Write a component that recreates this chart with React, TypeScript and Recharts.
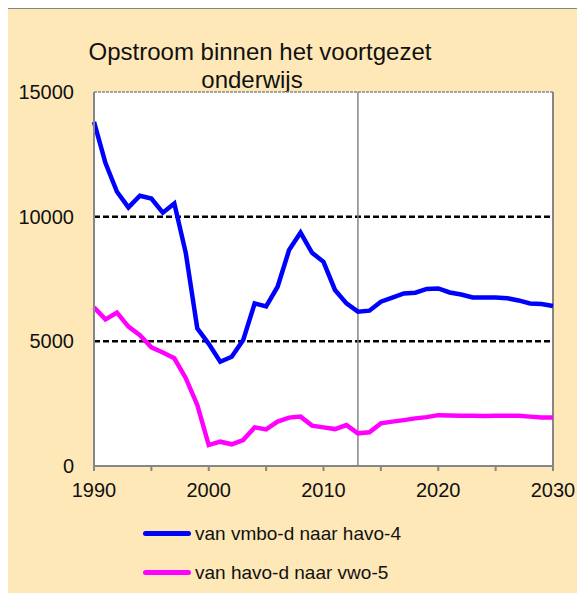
import { LineChart, Line, XAxis, YAxis, ReferenceLine, CartesianGrid, Legend } from "recharts";

const YEARS = [
  1990, 1991, 1992, 1993, 1994, 1995, 1996, 1997, 1998, 1999, 2000, 2001, 2002, 2003,
  2004, 2005, 2006, 2007, 2008, 2009, 2010, 2011, 2012, 2013, 2014, 2015, 2016, 2017,
  2018, 2019, 2020, 2021, 2022, 2023, 2024, 2025, 2026, 2027, 2028, 2029, 2030,
];

const VMBO_HAVO = [
  13800, 12150, 11000, 10370, 10840, 10730, 10160, 10530, 8540, 5520, 4900, 4180, 4380, 5050,
  6520, 6400, 7190, 8660, 9360, 8550, 8190, 7060, 6520, 6190, 6230, 6590, 6750, 6920,
  6950, 7100, 7120, 6960, 6880, 6760, 6760, 6760, 6730, 6640, 6520, 6500, 6420,
];

const HAVO_VWO = [
  6360, 5880, 6150, 5590, 5250, 4760, 4550, 4320, 3520, 2450, 840, 975, 870, 1040,
  1550, 1470, 1780, 1940, 1980, 1620, 1550, 1480, 1640, 1310, 1350, 1710, 1780, 1840,
  1910, 1960, 2040, 2030, 2020, 2020, 2010, 2020, 2020, 2020, 1980, 1950, 1950,
];

const X_TICKS = [1990, 1995, 2000, 2005, 2010, 2015, 2020, 2025, 2030];
const Y_TICKS = [0, 5000, 10000, 15000];
const SERIES_ORDER = ["vmbo", "havo"];

const data = YEARS.map((year, i) => ({
  year,
  vmbo: VMBO_HAVO[i],
  havo: HAVO_VWO[i],
}));

const FONT = "'Liberation Sans', Arial, sans-serif";
const GRAY = "#868686";

function LegendBox({ payload }: any) {
  const items = [...(payload || [])].sort(
    (a: any, b: any) => SERIES_ORDER.indexOf(a.dataKey) - SERIES_ORDER.indexOf(b.dataKey)
  );
  return (
    <div style={{ fontFamily: FONT, fontSize: 19, color: "#111" }}>
      {items.map((p: any) => (
        <div key={p.value} style={{ display: "flex", alignItems: "center", height: 39 }}>
          <span
            style={{
              display: "inline-block",
              width: 48,
              height: 5,
              borderRadius: 3,
              background: p.color,
              marginRight: 4,
            }}
          />
          {p.value}
        </div>
      ))}
    </div>
  );
}

export default function App() {
  return (
    <div style={{ position: "relative", width: 585, height: 601, margin: -8, overflow: "hidden", background: "#fff" }}>
      <div
        style={{
          position: "absolute",
          left: 5,
          top: 8,
          width: 590,
          height: 600,
          background: "#FFE8B8",
          borderLeft: `2px solid ${GRAY}`,
          borderTop: `1px solid ${GRAY}`,
        }}
      />
      <div
        style={{
          position: "absolute",
          left: 60,
          top: 38,
          width: 400,
          textAlign: "center",
          fontFamily: FONT,
          fontSize: 24,
          lineHeight: "28px",
          color: "#111",
        }}
      >
        Opstroom binnen het voortgezet
      </div>
      <div
        style={{
          position: "absolute",
          left: 52,
          top: 66,
          width: 400,
          textAlign: "center",
          fontFamily: FONT,
          fontSize: 24,
          lineHeight: "28px",
          color: "#111",
        }}
      >
        onderwijs
      </div>
      <div style={{ position: "absolute", left: 0, top: 0 }}>
        <LineChart
          width={585}
          height={601}
          data={data}
          margin={{ top: 92, right: 32, bottom: 95, left: 0 }}
        >
          <CartesianGrid fill="#fff" horizontal={false} vertical={false} />
          <XAxis
            dataKey="year"
            type="number"
            domain={[1990, 2030]}
            ticks={X_TICKS}
            interval={0}
            height={40}
            tickFormatter={(v: number) => (v % 10 === 0 ? String(v) : "")}
            stroke={GRAY}
            strokeWidth={2}
            tickSize={5}
            tickMargin={12}
            tick={{ fill: "#111", fontSize: 20, fontFamily: FONT }}
          />
          <YAxis
            type="number"
            domain={[0, 15000]}
            ticks={Y_TICKS}
            interval={0}
            width={94}
            stroke={GRAY}
            strokeWidth={2}
            tickLine={false}
            tickSize={0}
            tickMargin={20}
            tick={{ fill: "#111", fontSize: 20, fontFamily: FONT }}
          />
          <ReferenceLine y={15000} stroke={GRAY} strokeWidth={1.5} strokeDasharray="3 1" />
          <ReferenceLine x={2030} stroke={GRAY} strokeWidth={2} />
          <ReferenceLine y={10000} stroke="#000" strokeWidth={2.5} strokeDasharray="6 3" />
          <ReferenceLine y={5000} stroke="#000" strokeWidth={2.5} strokeDasharray="6 3" />
          <ReferenceLine x={2013} stroke={GRAY} strokeWidth={1.5} />
          <Line
            dataKey="vmbo"
            name="van vmbo-d naar havo-4"
            stroke="#0000FF"
            strokeWidth={4.5}
            dot={false}
            isAnimationActive={false}
          />
          <Line
            dataKey="havo"
            name="van havo-d naar vwo-5"
            stroke="#FF00FF"
            strokeWidth={4.5}
            dot={false}
            isAnimationActive={false}
          />
          <Legend
            layout="vertical"
            align="center"
            verticalAlign="middle"
            content={<LegendBox />}
            wrapperStyle={{ left: 143, top: 514, width: 320 }}
          />
        </LineChart>
      </div>
    </div>
  );
}
